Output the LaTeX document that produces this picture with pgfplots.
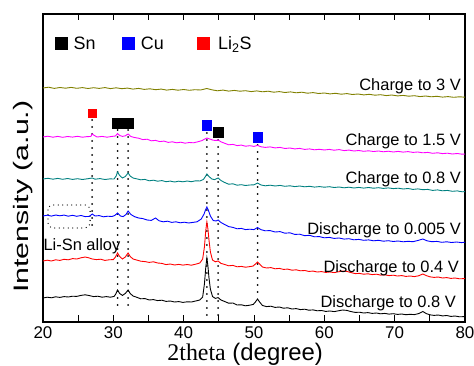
\documentclass[border=0pt]{standalone}
\usepackage{pgfplots}
\pgfplotsset{compat=1.18}
\usepackage{fontspec}
\setmainfont{Liberation Sans}
\newfontfamily\serifx{Liberation Serif}
\definecolor{olivec}{RGB}{128,128,0}
\definecolor{magc}{RGB}{255,0,255}
\definecolor{tealc}{RGB}{0,128,128}
\begin{document}
\begin{tikzpicture}
\begin{axis}[
  scale only axis, width=422bp, height=308bp,
  xmin=20, xmax=80, ymin=0, ymax=308,
  clip=false,
  axis line style={line width=1.3pt},
  xtick={20,30,...,80}, minor x tick num=1,
  xtick pos=both, tick align=inside,
  major tick length=6.5bp, minor tick length=6.5bp,
  every tick/.style={black, line width=1pt},
  ytick=\empty,
  /pgf/number format/assume math mode=true,
  xticklabel style={font=\fontsize{17}{20}\selectfont, yshift=-1bp},
  xlabel={\fontsize{24}{27}\selectfont{\serifx 2theta} (degree)},
  xlabel style={at={(rel axis cs:0.479,-0.124)}, anchor=base},
  ylabel={\scalebox{1.45}[1]{\fontsize{21}{24}\selectfont Intensity (a.u.)}},
  ylabel style={at={(rel axis cs:-0.0355,0.407)}, anchor=base, rotate=0},
  legend columns=3,
  legend style={draw=none, fill=none, at={(rel axis cs:0.0284,0.904)}, anchor=west,
    font=\fontsize{18}{21}\selectfont, inner sep=0pt},
  legend cell align=left,
  legend image code/.code={\path (0,0) -- (12bp,0); \draw[#1,mark size=6bp] plot coordinates {(6bp,0)};},
]
% peak markers (legend)
\addplot[only marks, mark=square*, mark size=5bp, black, mark options={fill=black}]
  coordinates {(30.6,199)(32.1,199)(44.9,190)};
\addlegendentry{\rule{4bp}{0pt}Sn\rule{25bp}{0pt}}
\addplot[only marks, mark=square*, mark size=4.8bp, blue, mark options={fill=blue}]
  coordinates {(43.3,196.5)(50.5,185)};
\addlegendentry{\rule{4bp}{0pt}Cu\rule{31bp}{0pt}}
\addplot[only marks, mark=square*, mark size=4.2bp, red, mark options={fill=red}]
  coordinates {(27,209)};
\addlegendentry{\rule{7bp}{0pt}Li\textsubscript{2}S}
% dotted guide lines
\pgfplotsset{guide/.style={black, line width=2bp, line cap=round, dash pattern=on 0pt off 7bp, forget plot}}
\addplot[guide] coordinates {(27,202)(27,95)};
\addplot[guide] coordinates {(30.6,192)(30.6,12)};
\addplot[guide] coordinates {(32.1,192)(32.1,12)};
\addplot[guide] coordinates {(43.3,189)(43.3,1)};
\addplot[guide] coordinates {(44.9,182)(44.9,1)};
\addplot[guide] coordinates {(50.5,177)(50.5,25)};
\draw[black, line width=1.3bp, line cap=round, dash pattern=on 0pt off 4.5bp, rounded corners=5bp]
  (axis cs:20.7,117) rectangle (axis cs:26.7,94);
% curves
\addplot[olivec, line width=0.9pt, forget plot] coordinates {
(20,234)(20.8,234.8)(21.6,233.6)(22.4,234.5)(23.2,233.8)(24,234.6)(24.8,233.7)(25.6,234.4)(26.4,233.5)(27.2,234.3)(28,233.6)(28.8,234.4)(29.6,233.4)(30.4,234.2)(31.2,233.3)(32,233.9)(32.8,232.9)(33.6,233.6)(34.4,232.6)(35.2,233.2)(36,232.3)(36.8,232.9)(37.6,231.9)(38.4,232.6)(39.2,231.8)(40,232.5)(40.8,231.7)(41.6,232.3)(42.4,232)(43.3,233.5)(44,232.2)(44.8,231.2)(45.6,231.9)(46.4,230.9)(47.2,231.6)(48,230.8)(48.8,231.3)(49.6,230.4)(50.4,231.1)(51.2,230.2)(52,230.8)(52.8,229.8)(53.6,230.4)(54.4,229.5)(55.2,230.1)(56,229.2)(56.8,229.8)(57.6,228.8)(58.4,229.4)(59.2,228.5)(60,229)(60.8,228.1)(61.6,228.7)(62.4,227.8)(63.2,228.4)(64,227.5)(64.8,228)(65.6,227.1)(66.4,227.7)(67.2,226.8)(68,227.3)(68.8,226.4)(69.6,227)(70.4,226.1)(71.2,226.6)(72,225.8)(72.8,226.3)(73.6,225.4)(74.4,226)(75.2,225.2)(76,225.7)(76.8,224.9)(77.6,225.4)(78.4,224.7)(79.2,225.2)(80,224.8)};
\addplot[magc, line width=0.9pt, forget plot] coordinates {
(20,185)(20.7,185.8)(21.4,184.8)(22.1,185.6)(22.8,184.7)(23.5,185.5)(24.2,184.9)(24.9,185.7)(25.6,184.8)(26.3,185.4)(26.8,185.5)(27,188)(27.3,186.5)(27.7,185)(28.4,185.6)(29.1,184.8)(29.8,185.6)(30.3,186)(30.6,188.5)(30.9,186.5)(31.3,185.6)(31.7,186.2)(32.1,188)(32.5,185.5)(33,184.5)(33.6,183.8)(34.2,182.4)(34.8,182.8)(35.4,181.2)(36,181.6)(36.6,180.4)(37.2,180.9)(37.8,179.6)(38.4,180.2)(39,179.2)(39.6,179.8)(40.2,178.8)(40.8,179.5)(41.4,179.2)(42,180.2)(42.6,181.4)(43,183)(43.3,184)(43.7,183)(44.2,181.8)(44.6,181.5)(44.9,182)(45.3,180.2)(45.8,178.8)(46.4,177.2)(47,177.6)(47.6,176.4)(48.2,176.9)(48.8,175.8)(49.4,176.3)(50,175.6)(50.5,176.6)(51,175.2)(51.6,174.6)(52.3,175.1)(53,174.1)(53.7,174.6)(54.4,173.5)(55.1,174)(55.8,173.1)(56.5,173.6)(57.2,172.6)(57.9,173.1)(58.6,172.2)(59.3,172.7)(60,172)(60.7,172.6)(61.4,171.8)(62.1,172.4)(62.8,171.4)(63.5,171.9)(64.2,171)(64.9,171.5)(65.6,170.7)(66.3,171.2)(67,170.5)(67.7,171)(68.4,170.2)(69.1,170.8)(69.8,170)(70.5,170.6)(71.2,169.9)(71.9,170.4)(72.6,169.6)(73.3,170)(74,169.2)(74.7,169.6)(75.4,168.7)(76.1,169.2)(76.8,168.4)(77.5,168.8)(78.2,168)(78.9,168.5)(79.6,167.8)(80,168)};
\addplot[tealc, line width=0.9pt, forget plot] coordinates {
(20,143)(20.7,143.7)(21.4,142.8)(22.1,143.6)(22.8,142.7)(23.5,143.5)(24.2,142.6)(24.9,143.3)(25.6,142.5)(26.3,143.2)(27,144)(27.4,142.8)(28.1,143.4)(28.8,142.5)(29.5,143.1)(30.1,143)(30.4,146)(30.6,150)(30.9,146.5)(31.3,144)(31.7,145.5)(32.1,149)(32.4,146)(32.8,144)(33.3,143.2)(33.9,142.2)(34.5,142.6)(35.1,141.2)(35.7,141.8)(36.3,140.8)(36.9,141.4)(37.5,140.3)(38.1,140.9)(38.7,140)(39.3,140.8)(39.9,140.2)(40.5,141)(41.1,140.3)(41.7,141.2)(42.3,141)(42.8,142.5)(43.1,145.5)(43.3,148)(43.6,145.5)(44,143)(44.4,142.4)(44.9,144)(45.3,141.5)(45.8,139.6)(46.4,137.8)(47,138.2)(47.6,136.8)(48.2,137.3)(48.8,136.5)(49.4,137)(50,137.2)(50.5,139)(51,137)(51.6,136.2)(52.3,136.8)(53,136)(53.7,136.6)(54.4,135.7)(55.1,136.2)(55.8,135.4)(56.5,136)(57.2,135.2)(57.9,135.7)(58.6,134.9)(59.3,135.4)(60,134.8)(60.7,135.3)(61.4,134.5)(62.1,135)(62.8,134.2)(63.5,134.8)(64.2,134)(64.9,134.6)(65.6,133.9)(66.3,134.5)(67,133.8)(67.7,134.3)(68.4,133.6)(69.1,134.1)(69.8,133.4)(70.5,133.8)(71.2,133)(71.9,133.5)(72.6,132.6)(73.3,133.1)(74,132.3)(74.7,132.6)(75.4,131.6)(76.1,132.1)(76.8,131.2)(77.5,131.6)(78.2,130.7)(78.9,131.1)(79.6,130.2)(80,130.4)};
\addplot[blue, line width=0.9pt, forget plot] coordinates {
(20,106)(20.6,106.8)(21.2,105.9)(21.8,107)(22.4,106.2)(23,106.9)(23.6,105.8)(24.2,106.7)(24.8,105.7)(25.4,106.5)(26,105.4)(26.6,105.6)(27,108)(27.4,106)(28,106.4)(28.6,105.2)(29.2,105.8)(29.8,105.5)(30.2,106.5)(30.6,109)(31,106)(31.4,105.4)(31.8,107.5)(32.1,111)(32.5,107.5)(33,105.4)(33.6,104)(34.2,103.4)(34.8,102)(35.4,101.6)(36,104)(36.5,101.2)(37.1,100.2)(37.7,100.8)(38.3,99.6)(38.9,100.2)(39.5,99.2)(40.1,99.8)(40.7,99)(41.3,99.6)(41.9,100.2)(42.5,103)(42.9,108)(43.1,112)(43.3,115)(43.5,112)(43.8,106)(44.2,101.5)(44.6,101)(44.9,102)(45.3,99.5)(45.8,97.6)(46.4,95.4)(47,94.6)(47.6,93.2)(48.2,93.6)(48.8,92.4)(49.4,92.8)(50,92.4)(50.5,94.5)(51,92.3)(51.6,91.2)(52.3,91.4)(53,90)(53.7,90.4)(54.4,88.8)(55.1,89.2)(55.8,87.6)(56.5,87.8)(57.2,86.3)(57.9,86.7)(58.6,85.2)(59.3,85.4)(60,84.2)(60.7,84.6)(61.4,83.6)(62.1,84)(62.8,82.9)(63.5,83.3)(64.2,82.2)(64.9,82.6)(65.6,81.7)(66.3,82.1)(67,81.2)(67.7,81.7)(68.4,80.8)(69.1,81.3)(69.8,80.5)(70.5,81)(71.2,80.2)(71.9,80.7)(72.6,80.3)(73.3,81.5)(74,83)(74.6,81.2)(75.3,80.3)(76,80.6)(76.7,79.7)(77.4,80.2)(78.1,79.5)(78.8,80)(79.5,79.4)(80,79.8)};
\addplot[red, line width=0.9pt, forget plot] coordinates {
(20,61)(20.6,61.8)(21.2,61)(21.8,62.2)(22.4,61.6)(23,62.7)(23.6,62.2)(24.2,63.4)(24.8,63)(25.4,64.2)(26,65)(26.5,64.2)(27,63)(27.6,62.4)(28.2,62.8)(28.8,61.6)(29.4,62.2)(30,62.4)(30.3,65)(30.6,69)(30.9,65.5)(31.3,63)(31.7,65)(32.1,69)(32.4,65.5)(32.8,63)(33.3,62)(33.9,60.8)(34.5,60.4)(35.1,59.6)(35.7,60.2)(36.3,59)(36.9,58.6)(37.5,57.4)(38.1,58)(38.7,57)(39.3,57.6)(39.9,56.9)(40.5,57.5)(41.1,56.8)(41.7,57.8)(42.3,59)(42.7,63)(42.95,75)(43.15,92)(43.3,100)(43.45,93)(43.6,82)(43.8,70)(44.1,62)(44.5,60.2)(44.9,61)(45.3,58.6)(45.8,57.6)(46.4,56.2)(47,56.6)(47.6,55.2)(48.2,55.6)(48.8,54.8)(49.4,55.4)(49.9,56)(50.2,58)(50.5,60)(50.8,58)(51.2,55)(51.8,54)(52.4,54.4)(53,53.2)(53.6,53.6)(54.2,52.6)(54.8,52.9)(55.4,51.8)(56,52.2)(56.6,51.2)(57.2,51.5)(57.8,50.6)(58.4,50.9)(59,50)(59.6,50.4)(60.2,49.6)(60.8,50)(61.4,49.4)(62,50.2)(62.6,51)(63.2,50.6)(63.8,49.4)(64.4,48.4)(65,48.6)(65.6,47.8)(66.2,48.2)(66.8,47.4)(67.4,47.8)(68,46.9)(68.6,47.2)(69.2,46.4)(69.8,46.8)(70.4,46)(71,46.4)(71.6,45.6)(72.2,46)(72.8,45.4)(73.4,46.2)(74,48)(74.5,46.4)(75,45.2)(75.6,44.6)(76.2,45)(76.8,44)(77.4,44.4)(78,43.6)(78.6,44)(79.2,43.2)(80,43.4)};
\addplot[black, line width=0.9pt, forget plot] coordinates {
(20,24)(20.6,24.8)(21.2,24.2)(21.8,25.2)(22.4,24.6)(23,25.4)(23.6,25)(24.2,25.8)(24.8,25.6)(25.4,26.6)(26,27.2)(26.6,26.4)(27.2,25.4)(27.8,25.8)(28.4,24.8)(29,25.4)(29.6,24.8)(30.1,25.6)(30.35,28)(30.6,32)(30.9,28.5)(31.3,26.6)(31.7,28.5)(32.1,32)(32.4,28.5)(32.8,26)(33.3,24.8)(33.9,23.2)(34.5,23.4)(35.1,22)(35.7,22.4)(36.3,21.4)(36.9,21.8)(37.5,20.6)(38.1,21)(38.7,20)(39.3,20.4)(39.9,19.6)(40.5,20.2)(41.1,20)(41.7,21)(42.3,22)(42.7,25)(42.95,38)(43.15,55)(43.3,64)(43.45,56)(43.6,44)(43.8,33)(44.1,25.5)(44.5,23.6)(44.9,24.4)(45.3,22)(45.8,20.6)(46.4,18.8)(47,19)(47.6,17)(48.2,17.2)(48.8,16.2)(49.4,16.8)(49.9,17.6)(50.2,20)(50.5,23)(50.8,20)(51.2,16.5)(51.8,15.4)(52.4,15.8)(53,14.6)(53.6,15)(54.2,13.8)(54.8,14.2)(55.4,13)(56,13.4)(56.6,12.4)(57.2,12.8)(57.8,11.8)(58.4,12.1)(59,11.2)(59.6,11.5)(60.2,10.6)(60.8,11)(61.4,10.4)(62,11.2)(62.6,12)(63.2,11.6)(63.8,10.4)(64.4,9.6)(65,9.8)(65.6,9)(66.2,9.4)(66.8,8.6)(67.4,9)(68,8.2)(68.6,8.6)(69.2,7.9)(69.8,8.3)(70.4,7.6)(71,8)(71.6,7.3)(72.2,7.7)(72.8,7.4)(73.4,8.4)(74,10.5)(74.5,8.4)(75,7.2)(75.6,6.6)(76.2,7)(76.8,6.1)(77.4,6.5)(78,5.6)(78.6,6)(79.2,5.2)(80,5.4)};
% labels
\begin{scope}[every node/.style={inner sep=0pt, font=\fontsize{16.5}{19}\selectfont}]
\node[anchor=base east] at (axis cs:79.43,231.3) {Charge to 3 V};
\node[anchor=base east] at (axis cs:79.43,176.3) {Charge to 1.5 V};
\node[anchor=base east] at (axis cs:79.43,138) {Charge to 0.8 V};
\node[anchor=base east] at (axis cs:79.43,87.7) {Discharge to 0.005 V};
\node[anchor=base east] at (axis cs:79.15,49.7) {Discharge to 0.4 V};
\node[anchor=base east] at (axis cs:78.72,14.7) {Discharge to 0.8 V};
\node[anchor=base west] at (axis cs:20.05,71.3) {Li-Sn alloy};
\end{scope}
\coordinate (SW) at (rel axis cs:0,0);
\coordinate (NE) at (rel axis cs:1,1);
\end{axis}
\pgfresetboundingbox
\path ([shift={(-43bp,-44bp)}]SW) rectangle ([shift={(9bp,14bp)}]NE);
\end{tikzpicture}
\end{document}
